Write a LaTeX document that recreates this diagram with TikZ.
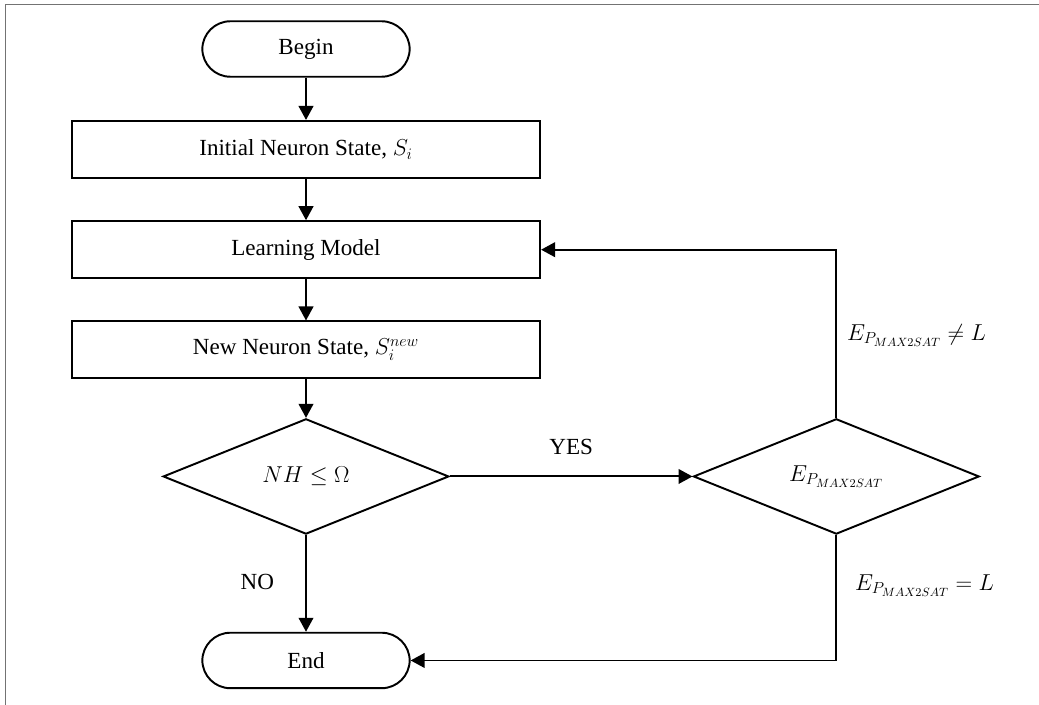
\documentclass[tikz,border=0pt]{standalone}
\usepackage{amsmath, amssymb}
\usepackage{fontspec}
\setmainfont{Liberation Serif}
\usepackage{tikz}
\usetikzlibrary{arrows.meta, positioning, shapes.geometric}
\usepackage{xcolor}
\definecolor{framegray}{gray}{0.45}

\begin{document}
\begin{tikzpicture}[
      x=0.75pt, y=-0.75pt,
      >={Triangle[length=10.5pt,width=11pt]},
      font=\fontsize{17.3}{20}\selectfont,
      line width=1.45pt,
      block/.style={
        rectangle, draw, align=center,
        minimum width=351.2pt, minimum height=42.75pt, inner sep=0pt
      },
      term/.style={
        rectangle, draw, rounded corners=21pt, align=center,
        minimum width=155.5pt, minimum height=41.6pt, inner sep=0pt
      },
      decision/.style={
        diamond, draw, aspect=2.5, inner sep=0pt,
        minimum width=214.3pt, minimum height=86.5pt
      }
    ]
    \useasboundingbox (0,0) rectangle (1039,705);
    \draw[framegray, line width=1.1pt] (5.5,705) -- (5.5,4.5) -- (1039,4.5);

    \node[term] (begin) at (306,49) {Begin};
    \node[block, below=31.7pt of begin]  (init)  {Initial Neuron State, $S_i$};
    \node[block, below=31pt of init]     (learn) {Learning Model};
    \node[block, below=31pt of learn]    (new)   {New Neuron State, $S_i^{new}$};
    \node[decision, below=28.8pt of new] (nh)    {$NH \leq \Omega$};
    \node[term, below=72.5pt of nh]      (end)   {End};
    \node[decision, right=182pt of nh]   (ep)    {$E_{P_{MAX2SAT}}$};

    \foreach \a/\b in {begin/init, init/learn, learn/new, new/nh}
      \draw[->] (\a) -- (\b);
    \draw[->] (nh) -- node[left=20pt, yshift=1pt] {NO} (end);
    \draw[->] (nh) -- node[above=12pt] {YES} (ep);
    \draw[->] (ep.north) |- node[pos=0.245, right=4pt] {$E_{P_{MAX2SAT}} \neq L$} (learn.east);
    \draw[->] (ep.south) |- node[pos=0.2, right=10pt] {$E_{P_{MAX2SAT}} = L$} (end.east);
  \end{tikzpicture}
\end{document}
